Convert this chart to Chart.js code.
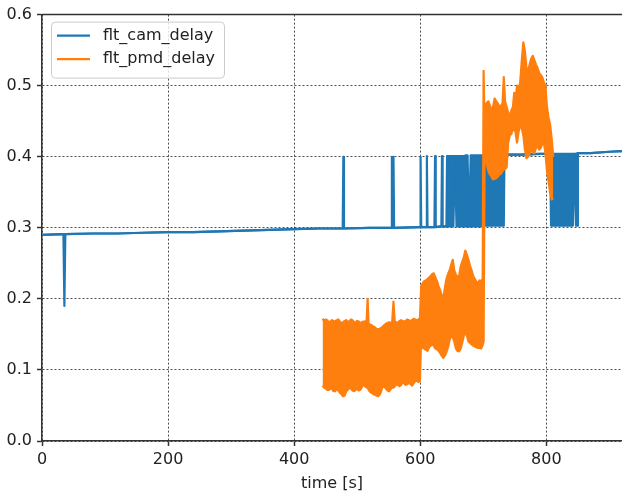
<!DOCTYPE html>
<html>
<head>
<meta charset="utf-8">
<script src="https://cdn.jsdelivr.net/npm/chart.js@4.4.0/dist/chart.umd.min.js"></script>
<style>
  html, body { margin: 0; padding: 0; background: #fff; overflow: hidden; }
</style>
</head>
<body>
<canvas id="chart" width="622" height="494"></canvas>
<script>
// series names + axis stuff
const seriesNames = ['flt_cam_delay', 'flt_pmd_delay'];
const seriesColors = ['#1f77b4', '#ff7f0e'];
const xTicks = [0, 200, 400, 600, 800];
const yTicks = [0.0, 0.1, 0.2, 0.3, 0.4, 0.5, 0.6];
const xTitle = 'time [s]';

// as [time, low, high]: the signal swings between low and high
// around that time (low == high where it is just a single value)
const camDelay = [
  [0, 0.290, 0.290], [34, 0.291, 0.291], [35.5, 0.190, 0.291], [37, 0.291, 0.291],
  [80, 0.292, 0.292], [120, 0.292, 0.292], [160, 0.293, 0.293], [200, 0.294, 0.294],
  [240, 0.294, 0.294], [280, 0.295, 0.295], [320, 0.296, 0.296], [360, 0.297, 0.297],
  [400, 0.298, 0.298], [440, 0.299, 0.299], [477, 0.299, 0.299], [478, 0.299, 0.400],
  [479, 0.299, 0.299], [520, 0.300, 0.300], [554, 0.300, 0.300], [555, 0.300, 0.400],
  [556, 0.300, 0.300], [557.5, 0.300, 0.400], [558.5, 0.300, 0.300], [600, 0.301, 0.301],
  [600.5, 0.301, 0.400], [601.5, 0.301, 0.301], [609.5, 0.301, 0.301], [610.5, 0.301, 0.401],
  [611.5, 0.301, 0.301], [622.5, 0.301, 0.301], [623.5, 0.301, 0.401], [624.5, 0.301, 0.301],
  [633.5, 0.302, 0.302], [634.5, 0.302, 0.401], [635.5, 0.302, 0.302], [641.5, 0.302, 0.302],
  [642.5, 0.302, 0.401], [645, 0.302, 0.401], [647.5, 0.302, 0.401], [650, 0.302, 0.401],
  [652.5, 0.302, 0.401], [655, 0.401, 0.401], [657.5, 0.302, 0.401], [660, 0.302, 0.401],
  [662.5, 0.302, 0.401], [665, 0.302, 0.401], [667.5, 0.302, 0.401], [670, 0.302, 0.401],
  [672.5, 0.302, 0.402], [675, 0.302, 0.402], [677.5, 0.302, 0.302], [680, 0.302, 0.402],
  [682.5, 0.302, 0.402], [685, 0.302, 0.402], [687.5, 0.302, 0.402], [690, 0.302, 0.402],
  [692.5, 0.302, 0.402], [695, 0.302, 0.402], [697.5, 0.302, 0.402], [700, 0.302, 0.402],
  [702.5, 0.303, 0.402], [705, 0.303, 0.402], [707.5, 0.303, 0.402], [710, 0.303, 0.402],
  [712.5, 0.303, 0.402], [715, 0.303, 0.402], [717.5, 0.303, 0.402], [720, 0.303, 0.403],
  [722.5, 0.303, 0.403], [725, 0.303, 0.403], [727.5, 0.303, 0.403], [730, 0.303, 0.403],
  [732.5, 0.303, 0.403], [733.5, 0.403, 0.403], [760, 0.403, 0.403], [790, 0.404, 0.404],
  [806, 0.404, 0.404], [807.5, 0.303, 0.404], [810, 0.303, 0.404], [812.5, 0.303, 0.404],
  [815, 0.303, 0.404], [817.5, 0.303, 0.404], [820, 0.303, 0.404], [822.5, 0.303, 0.404],
  [825, 0.303, 0.404], [827.5, 0.303, 0.404], [830, 0.303, 0.404], [832.5, 0.303, 0.404],
  [835, 0.303, 0.404], [837.5, 0.303, 0.404], [840, 0.303, 0.404], [842, 0.303, 0.404],
  [844.5, 0.404, 0.404], [847, 0.303, 0.404], [849, 0.303, 0.405], [850, 0.405, 0.405],
  [870, 0.405, 0.405], [900, 0.407, 0.407], [920, 0.408, 0.408]
];

const pmdDelay = [
  [445, 0.078, 0.172], [447.5, 0.075, 0.169], [450, 0.074, 0.171], [452.5, 0.072, 0.170],
  [455, 0.072, 0.167], [457.5, 0.074, 0.168], [460, 0.073, 0.170], [462.5, 0.070, 0.169],
  [465, 0.070, 0.168], [467.5, 0.073, 0.170], [470, 0.071, 0.171], [472.5, 0.068, 0.168],
  [475, 0.066, 0.166], [477.5, 0.063, 0.167], [480, 0.064, 0.169], [482.5, 0.070, 0.170],
  [485, 0.072, 0.168], [487.5, 0.075, 0.168], [490, 0.074, 0.171], [492.5, 0.071, 0.170],
  [495, 0.070, 0.167], [497.5, 0.072, 0.167], [500, 0.073, 0.169], [502.5, 0.071, 0.168],
  [505, 0.072, 0.166], [507.5, 0.076, 0.167], [510, 0.080, 0.168], [512.5, 0.077, 0.168],
  [515, 0.075, 0.170], [516.5, 0.078, 0.200], [518, 0.072, 0.165], [520.5, 0.069, 0.164],
  [523, 0.068, 0.163], [525.5, 0.066, 0.161], [528, 0.065, 0.160], [530.5, 0.064, 0.158],
  [533, 0.063, 0.157], [535.5, 0.065, 0.158], [538, 0.070, 0.159], [540.5, 0.078, 0.161],
  [543, 0.076, 0.163], [545.5, 0.074, 0.165], [548, 0.071, 0.166], [550.5, 0.070, 0.167],
  [553, 0.073, 0.166], [555.5, 0.076, 0.168], [557.5, 0.075, 0.196], [559.5, 0.077, 0.168],
  [562, 0.080, 0.167], [564.5, 0.079, 0.166], [567, 0.077, 0.169], [569.5, 0.079, 0.170],
  [572, 0.083, 0.169], [574.5, 0.081, 0.168], [577, 0.079, 0.169], [579.5, 0.080, 0.171],
  [582, 0.082, 0.170], [584.5, 0.080, 0.168], [587, 0.078, 0.170], [589.5, 0.081, 0.172],
  [592, 0.084, 0.171], [594.5, 0.085, 0.170], [597, 0.083, 0.171], [599.5, 0.084, 0.173],
  [601.5, 0.150, 0.218], [604, 0.131, 0.222], [606.5, 0.130, 0.225], [609, 0.128, 0.226],
  [611.5, 0.127, 0.228], [614, 0.132, 0.230], [616.5, 0.134, 0.232], [619, 0.136, 0.235],
  [621.5, 0.134, 0.236], [624, 0.130, 0.230], [626.5, 0.129, 0.225], [629, 0.127, 0.218],
  [631.5, 0.124, 0.212], [634, 0.120, 0.205], [636.5, 0.117, 0.200], [639, 0.120, 0.215],
  [641.5, 0.125, 0.228], [644, 0.132, 0.235], [646.5, 0.142, 0.240], [649, 0.148, 0.248],
  [651.5, 0.146, 0.255], [654, 0.140, 0.240], [656.5, 0.130, 0.234], [659, 0.127, 0.231],
  [661.5, 0.126, 0.232], [664, 0.130, 0.245], [666.5, 0.138, 0.252], [669, 0.148, 0.258],
  [671.5, 0.153, 0.268], [674, 0.148, 0.262], [676.5, 0.140, 0.255], [679, 0.138, 0.246],
  [681.5, 0.136, 0.240], [684, 0.134, 0.232], [686.5, 0.133, 0.228], [689, 0.132, 0.224],
  [691.5, 0.131, 0.222], [694, 0.131, 0.226], [696.5, 0.130, 0.225], [699, 0.135, 0.228],
  [700.5, 0.140, 0.521], [702, 0.400, 0.440],
  [703, 0.400, 0.470], [705.5, 0.390, 0.476], [708, 0.380, 0.478], [710.5, 0.375, 0.472],
  [713, 0.372, 0.465], [715.5, 0.368, 0.470], [718, 0.369, 0.482], [720.5, 0.370, 0.478],
  [723, 0.372, 0.475], [725.5, 0.375, 0.470], [728, 0.376, 0.472], [730.5, 0.380, 0.475],
  [732.5, 0.382, 0.512], [734.5, 0.383, 0.478], [737, 0.385, 0.470], [739.5, 0.420, 0.462],
  [742, 0.430, 0.458], [744.5, 0.432, 0.465], [747, 0.440, 0.470], [749, 0.438, 0.490],
  [751, 0.435, 0.480], [753.5, 0.420, 0.500], [756, 0.435, 0.492], [758.5, 0.445, 0.505],
  [761, 0.440, 0.535], [763.5, 0.430, 0.561], [766, 0.410, 0.548], [768.5, 0.398, 0.525],
  [771, 0.400, 0.520], [773.5, 0.405, 0.530], [776, 0.410, 0.538], [778.5, 0.406, 0.542],
  [781, 0.405, 0.536], [783.5, 0.412, 0.530], [786, 0.415, 0.525], [788.5, 0.410, 0.518],
  [791, 0.412, 0.515], [793.5, 0.418, 0.512], [796, 0.420, 0.505], [798.5, 0.405, 0.500],
  [801, 0.380, 0.470], [803.5, 0.365, 0.455], [806, 0.350, 0.445], [808.5, 0.340, 0.425],
  [811, 0.342, 0.400]
];

const font = { family: 'DejaVu Sans', size: 16 };
const textColor = '#222';

// one edge (1 = low, 2 = high) of a [t, low, high] table as chart points
const edge = (rows, k) => rows.map(r => ({ x: r[0], y: r[k] }));

// top spine, the frame matplotlib draws
const topSpine = {
  id: 'topSpine',
  afterDraw(chart) {
    const { ctx, chartArea } = chart;
    ctx.save();
    ctx.strokeStyle = '#333';
    ctx.lineWidth = 1.5;
    ctx.beginPath();
    ctx.moveTo(chartArea.left, chartArea.top);
    ctx.lineTo(chartArea.right, chartArea.top);
    ctx.stroke();
    ctx.restore();
  }
};

// legend inside the axes, upper left
const boxLegend = {
  id: 'boxLegend',
  afterDraw(chart) {
    const { ctx, chartArea } = chart;
    const x = chartArea.left + 9, y = chartArea.top + 7, w = 173, h = 56;
    ctx.save();
    ctx.fillStyle = 'rgba(255,255,255,0.8)';
    ctx.strokeStyle = '#cccccc';
    ctx.lineWidth = 1;
    ctx.beginPath();
    ctx.roundRect(x + 0.5, y + 0.5, w, h, 4);
    ctx.fill();
    ctx.stroke();
    ctx.font = font.size + 'px ' + font.family;
    ctx.textBaseline = 'middle';
    chart.data.datasets.filter(ds => ds.label).forEach((ds, i) => {
      const ly = y + 14 + i * 23.5;
      ctx.strokeStyle = ds.borderColor;
      ctx.lineWidth = 2.2;
      ctx.beginPath();
      ctx.moveTo(x + 6, ly);
      ctx.lineTo(x + 39, ly);
      ctx.stroke();
      ctx.fillStyle = textColor;
      ctx.fillText(ds.label, x + 52, ly);
    });
    ctx.restore();
  }
};

// each series = its upper edge filled down to its lower edge
new Chart(document.getElementById('chart'), {
  type: 'line',
  data: {
    datasets: [
      { label: seriesNames[0], data: edge(camDelay, 2), borderColor: seriesColors[0],
        backgroundColor: seriesColors[0], fill: '+1', order: 1 },
      { data: edge(camDelay, 1), borderColor: seriesColors[0], order: 1 },
      { label: seriesNames[1], data: edge(pmdDelay, 2), borderColor: seriesColors[1],
        backgroundColor: seriesColors[1], fill: '+1', order: 0 },
      { data: edge(pmdDelay, 1), borderColor: seriesColors[1], order: 0 }
    ]
  },
  options: {
    responsive: false,
    animation: false,
    parsing: false,
    devicePixelRatio: 1,
    layout: { padding: { top: 10, right: 0, left: 0, bottom: 0 } },
    elements: {
      point: { radius: 0 },
      line: { borderWidth: 2.2, tension: 0, fill: false, borderJoinStyle: 'round' }
    },
    plugins: { legend: { display: false }, tooltip: { enabled: false } },
    scales: {
      x: {
        type: 'linear', min: 0, max: 920,
        afterBuildTicks: s => { s.ticks = xTicks.map(v => ({ value: v })); },
        afterFit: s => { s.height = 53; },
        ticks: { color: textColor, font, padding: 4, maxRotation: 0, callback: v => String(v) },
        grid: { color: 'rgba(0,0,0,0.7)', lineWidth: 1, tickColor: '#333', tickLength: 5, tickWidth: 1.5 },
        border: { color: '#333', width: 1.5, dash: [2, 2] },
        title: { display: true, text: xTitle, color: textColor, font, padding: { top: 2, bottom: 1 } }
      },
      y: {
        min: 0, max: 0.6,
        afterBuildTicks: s => { s.ticks = yTicks.map(v => ({ value: v })); },
        afterFit: s => { s.width = 42; },
        ticks: { color: textColor, font, padding: 5, callback: v => v.toFixed(1) },
        grid: { color: 'rgba(0,0,0,0.7)', lineWidth: 1, tickColor: '#333', tickLength: 5, tickWidth: 1.5 },
        border: { color: '#333', width: 1.5, dash: [2, 2] }
      }
    }
  },
  plugins: [topSpine, boxLegend]
});
</script>
</body>
</html>
